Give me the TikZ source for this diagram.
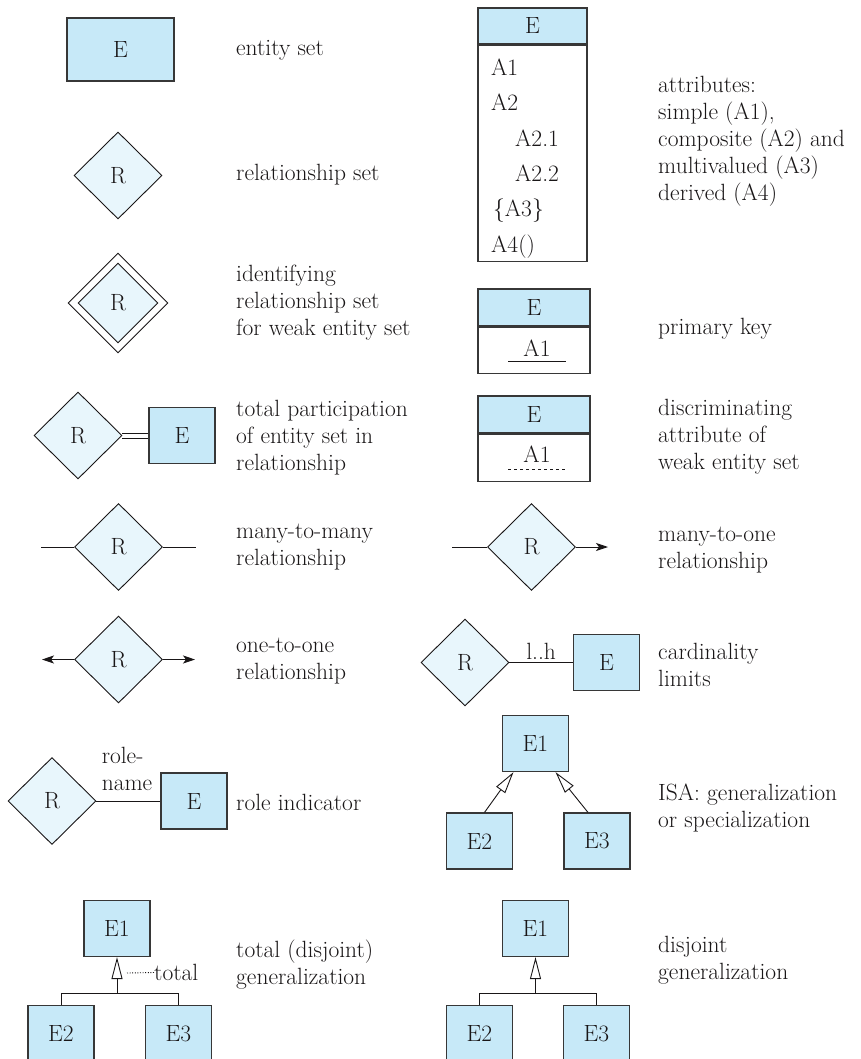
\documentclass[tikz,border=0pt]{standalone}
\usepackage{tikz}
\usetikzlibrary{shapes.geometric, arrows.meta}

\definecolor{entc}{RGB}{199,233,248}
\definecolor{relc}{RGB}{232,246,252}
\definecolor{bordc}{RGB}{55,55,55}
\definecolor{inkc}{RGB}{25,22,23}

\begin{document}
\begin{tikzpicture}[x=1pt, y=-1pt, text=inkc,
    every node/.style={font=\fontsize{23.5}{27}\selectfont},
    entity/.style={draw=bordc, fill=entc, line width=1.2pt, minimum width=66pt,
                   minimum height=56pt, inner sep=0pt},
    relship/.style={diamond, draw=inkc, fill=relc, line width=0.9pt, minimum width=88pt,
                    minimum height=87pt, inner sep=0pt},
    attbox/.style={draw=bordc, line width=1.2pt, inner sep=0pt},
    lbl/.style={anchor=west, align=left, inner sep=0pt},
    attr/.style={anchor=west, inner sep=0pt},
    link/.style={draw=inkc, line width=0.9pt},
    tip/.style={-{Stealth[length=12pt, width=8pt, inset=3pt]}},
    isatip/.style={-{Triangle[open, length=22pt, width=11pt]}}]

  \useasboundingbox (0, 0) rectangle (860, 1059);

  % left column
  \node[entity, minimum width=107pt, minimum height=63pt] (ent) at (120.5, 49.5) {E};
  \node[relship] (rel) at (118, 175.5) {R};
  \node[relship, fill=white, minimum width=100pt, minimum height=100pt] (idro) at (118, 303) {};
  \node[relship, minimum width=80pt, minimum height=80pt] (idri) at (118, 303) {R};

  \node[relship] (tpr) at (78, 435.5) {R};
  \node[entity] (tpe) at (182, 435.5) {E};
  \draw[link, line width=1pt] ([yshift=-2.5pt]tpr.east) -- ([yshift=-2.5pt]tpe.west);
  \draw[link, line width=1pt] ([yshift=2.5pt]tpr.east) -- ([yshift=2.5pt]tpe.west);

  \node[relship] (mmr) at (118.5, 547) {R};
  \coordinate (mml) at (41, 547);
  \coordinate (mmrr) at (196, 547);
  \draw[link] (mml) -- (mmr.west);
  \draw[link] (mmr.east) -- (mmrr);

  \node[relship] (oor) at (118.5, 659.5) {R};
  \coordinate (ool) at (42, 659.5);
  \coordinate (oorr) at (195, 659.5);
  \draw[link, tip] (oor.west) -- (ool);
  \draw[link, tip] (oor.east) -- (oorr);

  \node[relship] (rir) at (52, 801) {R};
  \node[entity] (rie) at (194, 801) {E};
  \draw[link] (rir.east) -- (rie.west);
  \node[lbl, anchor=center] (rname) at (127, 769) {role-\\name};

  \node[entity] (tge1) at (117, 928.5) {E1};
  \node[entity] (tge2) at (61, 1033.5) {E2};
  \node[entity] (tge3) at (178.5, 1033.5) {E3};
  \coordinate (tgj) at (117, 993);
  \draw[link, isatip] (tgj) -- (tge1.south);
  \draw[link] (tge2.north) |- (tgj) -| (tge3.north);
  \node[attr] (tgt) at (154, 972.5) {total};
  \coordinate (tgd) at (127, 973);
  \draw[link, dash pattern=on 1pt off 1.6pt] (tgd) -- (tgt.west);

  % right column
  \node[attbox, fill=entc, minimum width=109pt, minimum height=36pt] (atth) at (532.5, 26) {E};
  \node[attbox, fill=white, anchor=north, minimum width=109pt, minimum height=216pt] (attb) at (atth.south) {};
  \foreach \x/\y/\txt [count=\n] in {491/67/A1, 491/102/A2, 515/138/A2.1, 515/173/A2.2,
                                    493/211/{\{A3\}}, 491/247/{A4()}} {
    \node[attr] (att\n) at (\x, \y) {\txt};
  }

  \node[attbox, fill=entc, minimum width=112pt, minimum height=37pt] (pkh) at (534, 307.5) {E};
  \node[attbox, fill=white, anchor=north, minimum width=112pt, minimum height=46pt] (pkb) at (pkh.south) {};
  \node[inner sep=0pt] (pka) at (537, 348) {A1};
  \draw[link] ([shift={(-29pt, -5pt)}]pka.south) -- ([shift={(29pt, -5pt)}]pka.south);

  \node[attbox, fill=entc, minimum width=112pt, minimum height=37pt] (dah) at (534, 414.5) {E};
  \node[attbox, fill=white, anchor=north, minimum width=112pt, minimum height=47pt] (dab) at (dah.south) {};
  \node[inner sep=0pt] (daa) at (537, 454) {A1};
  \draw[link, dash pattern=on 3pt off 3pt] ([shift={(-29pt, -7pt)}]daa.south) -- ([shift={(30pt, -7pt)}]daa.south);

  \node[relship] (mor) at (531.5, 547) {R};
  \coordinate (mol) at (452, 547);
  \coordinate (mot) at (608, 547);
  \draw[link] (mol) -- (mor.west);
  \draw[link, tip] (mor.east) -- (mot);

  \node[relship] (cdr) at (465, 662.5) {R};
  \node[entity] (cde) at (606.5, 662.5) {E};
  \draw[link] (cdr.east) -- node[above, inner sep=3pt] (cdl) {l..h} (cde.west);

  \node[entity] (isa1) at (535.5, 743.5) {E1};
  \node[entity] (isa2) at (479.5, 841) {E2};
  \node[entity] (isa3) at (597, 841) {E3};
  \draw[link, isatip] ([xshift=5pt]isa2.north) -- ([xshift=-22pt]isa1.south);
  \draw[link, isatip] ([xshift=-9pt]isa3.north) -- ([xshift=20pt]isa1.south);

  \node[entity] (djg1) at (535.5, 928.5) {E1};
  \node[entity] (djg2) at (479.5, 1033.5) {E2};
  \node[entity] (djg3) at (596.5, 1033.5) {E3};
  \coordinate (djj) at (535.5, 993);
  \draw[link, isatip] (djj) -- (djg1.south);
  \draw[link] (djg2.north) |- (djj) -| (djg3.north);

  % legend texts
  \foreach \x/\y/\txt [count=\n] in {
      236/50/{entity set},
      236/175/{relationship set},
      236/303/{identifying\\relationship set\\for weak entity set},
      236/438/{total participation\\of entity set in\\relationship},
      236/547.5/{many-to-many\\relationship},
      236/661/{one-to-one\\relationship},
      236/802/{role indicator},
      236/964.5/{total (disjoint)\\generalization},
      658/141/{attributes:\\simple (A1),\\composite (A2) and\\multivalued (A3)\\derived (A4)},
      658/329/{primary key},
      658/437/{discriminating\\attribute of\\weak entity set},
      658/550/{many-to-one\\relationship},
      658/665/{cardinality\\limits},
      658/807.5/{ISA: generalization\\or specialization},
      658/960/{disjoint\\generalization}} {
    \node[lbl] (txt\n) at (\x, \y) {\txt};
  }

\end{tikzpicture}
\end{document}
